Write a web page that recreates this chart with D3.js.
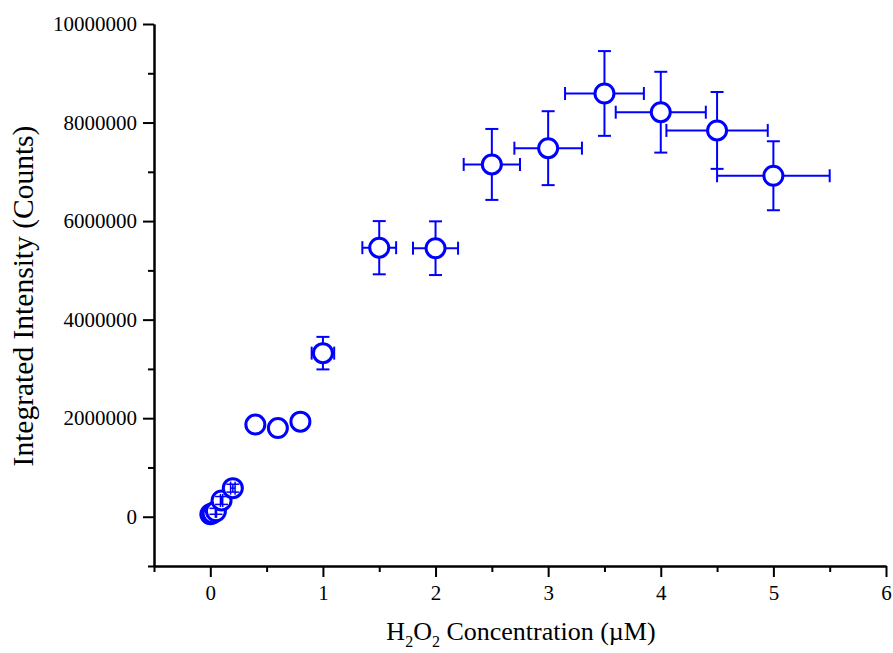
<!DOCTYPE html>
<html>
<head>
<meta charset="utf-8">
<script src="https://cdn.jsdelivr.net/npm/d3@7"></script>
<style>
  body { margin: 0; background: #fff; }
  text { font-family: "Liberation Serif", "Times New Roman", serif; fill: #000; }
</style>
</head>
<body>
<svg id="chart" width="893" height="653"></svg>
<script>
// H2O2 concentration (µM) and integrated intensity (counts)
const concentration    = [0, 0.02, 0.05, 0.1, 0.2, 0.4, 0.6, 0.8, 1.0, 1.5, 2.0, 2.5, 3.0, 3.5, 4.0, 4.5, 5.0];
const intensity        = [50000, 70000, 110000, 330000, 580000, 1870000, 1800000, 1930000, 3320000,
                          5460000, 5450000, 7150000, 7480000, 8590000, 8210000, 7840000, 6920000];
const intensityErr     = [60000, 50000, 60000, 80000, 80000, 0, 0, 0, 330000,
                          540000, 545000, 720000, 750000, 860000, 820000, 780000, 700000];
const concentrationErr = [0, 0.002, 0.005, 0.01, 0.02, 0, 0, 0, 0.1,
                          0.15, 0.2, 0.25, 0.3, 0.35, 0.4, 0.45, 0.5];

const xMajorTicks = [0, 1, 2, 3, 4, 5, 6];
const xMinorTicks = [-0.5, 0.5, 1.5, 2.5, 3.5, 4.5, 5.5];
const yMajorTicks = [0, 2000000, 4000000, 6000000, 8000000, 10000000];
const yMinorTicks = [-1000000, 1000000, 3000000, 5000000, 7000000, 9000000];

const blue = "#0000ff";
const svg = d3.select("#chart");

const x = d3.scaleLinear().domain([-0.5, 6]).range([154, 886]);
const y = d3.scaleLinear().domain([-1000000, 10000000]).range([566, 24]);

// Axes: left and bottom only, outward ticks
function styleAxis(g) {
  g.selectAll("path, line").attr("stroke", "#000").attr("stroke-width", 2);
  g.selectAll("text").style("font-family", "'Liberation Serif', 'Times New Roman', serif")
    .style("font-size", "21px").attr("fill", "#000");
}

svg.append("g").attr("transform", `translate(0,${y.range()[0]})`)
  .call(d3.axisBottom(x).tickValues(xMinorTicks).tickSize(6).tickSizeOuter(0).tickFormat(""))
  .call(styleAxis);
svg.append("g").attr("transform", `translate(0,${y.range()[0]})`)
  .call(d3.axisBottom(x).tickValues(xMajorTicks).tickSize(11).tickSizeOuter(0).tickPadding(8).tickFormat(d3.format("d")))
  .call(styleAxis);

svg.append("g").attr("transform", `translate(${x.range()[0]},0)`)
  .call(d3.axisLeft(y).tickValues(yMinorTicks).tickSize(6).tickSizeOuter(0).tickFormat(""))
  .call(styleAxis);
svg.append("g").attr("transform", `translate(${x.range()[0]},0)`)
  .call(d3.axisLeft(y).tickValues(yMajorTicks).tickSize(11).tickSizeOuter(0).tickPadding(6).tickFormat(d3.format("d")))
  .call(styleAxis);

// Axis titles
const xTitle = svg.append("text")
  .attr("x", 521).attr("y", 640)
  .attr("text-anchor", "middle")
  .style("font-size", "26px");
xTitle.append("tspan").text("H");
xTitle.append("tspan").text("2").style("font-size", "16px").attr("dy", 7);
xTitle.append("tspan").text("O").attr("dy", -7);
xTitle.append("tspan").text("2").style("font-size", "16px").attr("dy", 7);
xTitle.append("tspan").text(" Concentration (\u00b5M)").attr("dy", -7);

svg.append("text")
  .attr("transform", "translate(33,296) rotate(-90)")
  .attr("text-anchor", "middle")
  .style("font-size", "29.5px")
  .text("Integrated Intensity (Counts)");

// Points with error bars
const data = concentration.map((c, i) => ({
  c, v: intensity[i], ev: intensityErr[i], ec: concentrationErr[i]
}));

const r = 9.5, outerR = 11, cap = 6.5;

function errorSegments(d) {
  const px = x(d.c), py = y(d.v);
  const segs = [];
  if (d.ev > 0) {
    const top = y(d.v + d.ev), bot = y(d.v - d.ev);
    const sm = py - top <= outerR;
    segs.push({ x1: px, y1: top, x2: px, y2: bot, small: sm });
    segs.push({ x1: px - cap, y1: top, x2: px + cap, y2: top, small: sm });
    segs.push({ x1: px - cap, y1: bot, x2: px + cap, y2: bot, small: sm });
  }
  if (d.ec > 0) {
    const left = x(d.c - d.ec), right = x(d.c + d.ec);
    const sm = px - left <= outerR;
    segs.push({ x1: left, y1: py, x2: right, y2: py, small: sm });
    segs.push({ x1: left, y1: py - cap, x2: left, y2: py + cap, small: sm });
    segs.push({ x1: right, y1: py - cap, x2: right, y2: py + cap, small: sm });
  }
  return segs;
}

const pts = svg.append("g").selectAll("g.pt").data(data).join("g").attr("class", "pt");

pts.selectAll("line.under").data(d => errorSegments(d).filter(s => !s.small)).join("line")
  .attr("class", "under")
  .attr("x1", s => s.x1).attr("y1", s => s.y1).attr("x2", s => s.x2).attr("y2", s => s.y2)
  .attr("stroke", blue).attr("stroke-width", 2);

pts.append("circle")
  .attr("cx", d => x(d.c)).attr("cy", d => y(d.v)).attr("r", r)
  .attr("fill", "#fff").attr("stroke", blue).attr("stroke-width", 3);

pts.selectAll("line.over").data(d => errorSegments(d).filter(s => s.small)).join("line")
  .attr("class", "over")
  .attr("x1", s => s.x1).attr("y1", s => s.y1).attr("x2", s => s.x2).attr("y2", s => s.y2)
  .attr("stroke", blue).attr("stroke-width", 1.5);
</script>
</body>
</html>
